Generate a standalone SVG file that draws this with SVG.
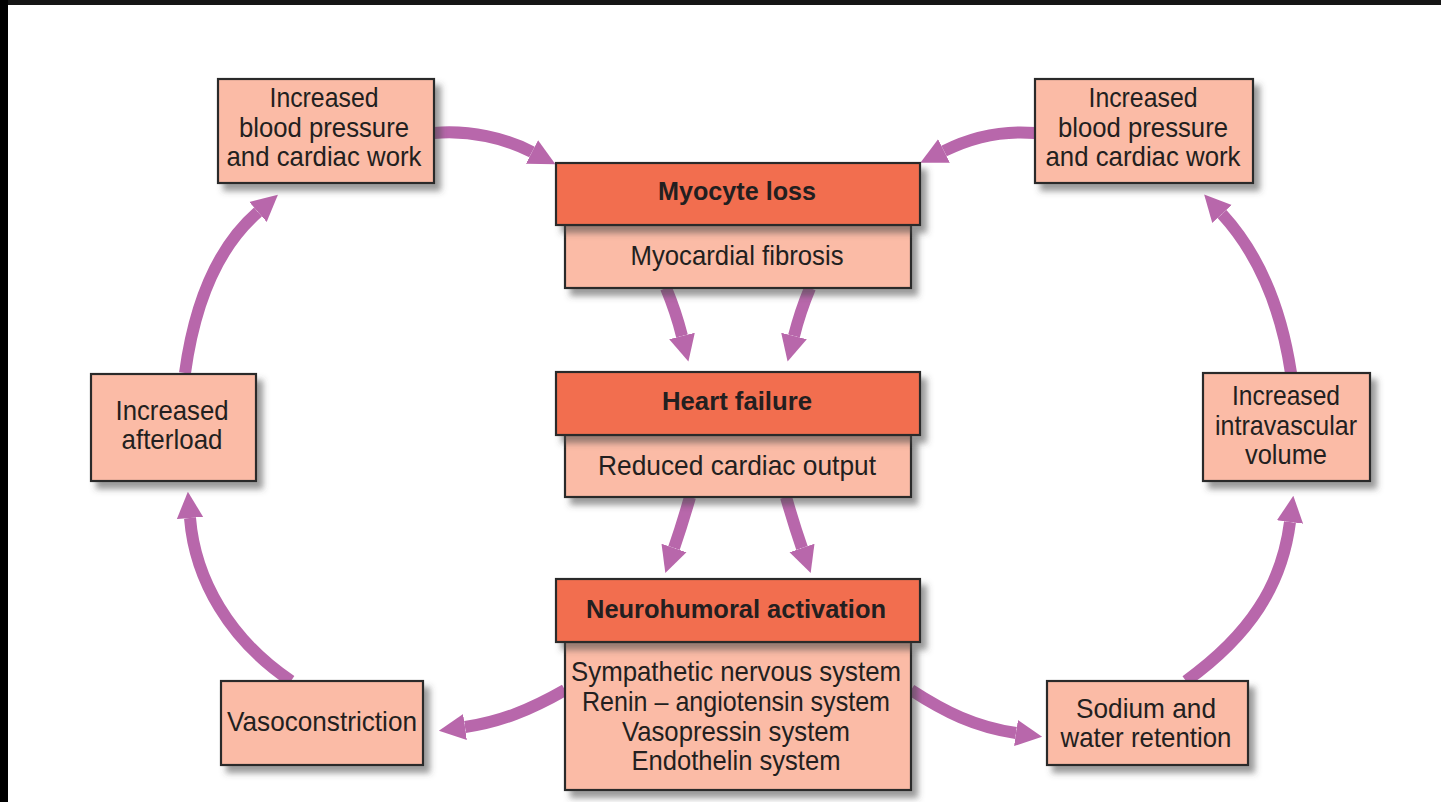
<svg xmlns="http://www.w3.org/2000/svg" width="1441" height="802" viewBox="0 0 1441 802">
<style>
.box{fill:#FBBBA6;stroke:#2a2a2a;stroke-width:2.2}
.hdr{fill:#F26E50;stroke:#2a2a2a;stroke-width:2.2}
.t{font-family:"Liberation Sans",Arial,sans-serif;font-size:28px;fill:#231F20;text-anchor:middle}
.b{font-family:"Liberation Sans",Arial,sans-serif;font-size:26px;font-weight:bold;fill:#231F20;text-anchor:middle}
.arr{fill:none;stroke:#B867AB;stroke-width:12;marker-end:url(#ah)}
</style>
<defs>
<filter id="sh" x="-10%" y="-10%" width="130%" height="140%">
<feDropShadow dx="6" dy="7" stdDeviation="3" flood-color="#4a4a4a" flood-opacity="0.55"/>
</filter>
<marker id="ah" viewBox="0 0 10 10" refX="0" refY="5" markerWidth="2.2" markerHeight="2.6" orient="auto" markerUnits="strokeWidth">
<path d="M0,0 L10,5 L0,10 z" fill="#B867AB"/>
</marker>
</defs>
<rect x="0" y="0" width="1441" height="802" fill="#ffffff"/>
<rect x="0" y="0" width="1441" height="5" fill="#151515"/>
<rect x="0" y="0" width="8" height="802" fill="#000000"/>

<g id="connectors">
<path class="arr" d="M434,133 C470,130 505,138 532,152"/>
<path class="arr" d="M1035,133 C1000,130 970,138 944,151"/>
<path class="arr" d="M185,373 C195,300 220,245 258,212"/>
<path class="arr" d="M291,681 C230,640 195,580 190,518"/>
<path class="arr" d="M1186,681 C1250,635 1282,585 1290,522"/>
<path class="arr" d="M1291,373 C1280,300 1255,250 1222,214"/>
<path class="arr" d="M565,690 C530,710 500,722 465,727"/>
<path class="arr" d="M911,690 C945,712 975,727 1016,733"/>
<path class="arr" d="M666,288 Q676,312 682,336"/>
<path class="arr" d="M810,288 Q800,312 794,336"/>
<path class="arr" d="M690,497 Q682,525 674,548"/>
<path class="arr" d="M786,497 Q794,525 802,548"/>
</g>

<g id="bp-left">
<rect class="box" x="218" y="79" width="216" height="104" filter="url(#sh)"/>
<text class="t" x="324" y="107" textLength="109" lengthAdjust="spacingAndGlyphs">Increased</text>
<text class="t" x="324" y="137" textLength="170" lengthAdjust="spacingAndGlyphs">blood pressure</text>
<text class="t" x="324" y="166" textLength="195" lengthAdjust="spacingAndGlyphs">and cardiac work</text>
</g>

<g id="bp-right">
<rect class="box" x="1035" y="79" width="218" height="104" filter="url(#sh)"/>
<text class="t" x="1143" y="107" textLength="109" lengthAdjust="spacingAndGlyphs">Increased</text>
<text class="t" x="1143" y="137" textLength="170" lengthAdjust="spacingAndGlyphs">blood pressure</text>
<text class="t" x="1143" y="166" textLength="195" lengthAdjust="spacingAndGlyphs">and cardiac work</text>
</g>

<g id="myocyte">
<rect class="box" x="565" y="225" width="346" height="63" filter="url(#sh)"/>
<rect class="hdr" x="556" y="163" width="364" height="62" filter="url(#sh)"/>
<text class="b" x="737" y="200" textLength="158" lengthAdjust="spacingAndGlyphs">Myocyte loss</text>
<text class="t" x="737" y="265" textLength="213" lengthAdjust="spacingAndGlyphs">Myocardial fibrosis</text>
</g>

<g id="heart-failure">
<rect class="box" x="565" y="435" width="346" height="62" filter="url(#sh)"/>
<rect class="hdr" x="556" y="372" width="364" height="63" filter="url(#sh)"/>
<text class="b" x="737" y="410" textLength="150" lengthAdjust="spacingAndGlyphs">Heart failure</text>
<text class="t" x="737" y="475" textLength="278" lengthAdjust="spacingAndGlyphs">Reduced cardiac output</text>
</g>

<g id="neurohumoral">
<rect class="box" x="565" y="642" width="346" height="148" filter="url(#sh)"/>
<rect class="hdr" x="556" y="579" width="364" height="63" filter="url(#sh)"/>
<text class="b" x="736" y="618" textLength="300" lengthAdjust="spacingAndGlyphs">Neurohumoral activation</text>
<text class="t" x="736" y="681" textLength="330" lengthAdjust="spacingAndGlyphs">Sympathetic nervous system</text>
<text class="t" x="736" y="711" textLength="308" lengthAdjust="spacingAndGlyphs">Renin – angiotensin system</text>
<text class="t" x="736" y="741" textLength="228" lengthAdjust="spacingAndGlyphs">Vasopressin system</text>
<text class="t" x="736" y="770" textLength="209" lengthAdjust="spacingAndGlyphs">Endothelin system</text>
</g>

<g id="afterload">
<rect class="box" x="91" y="374" width="165" height="107" filter="url(#sh)"/>
<text class="t" x="172" y="420" textLength="113" lengthAdjust="spacingAndGlyphs">Increased</text>
<text class="t" x="172" y="449" textLength="101" lengthAdjust="spacingAndGlyphs">afterload</text>
</g>

<g id="intravascular">
<rect class="box" x="1203" y="373" width="167" height="108" filter="url(#sh)"/>
<text class="t" x="1286" y="405" textLength="108" lengthAdjust="spacingAndGlyphs">Increased</text>
<text class="t" x="1286" y="435" textLength="142" lengthAdjust="spacingAndGlyphs">intravascular</text>
<text class="t" x="1286" y="464" textLength="82" lengthAdjust="spacingAndGlyphs">volume</text>
</g>

<g id="vasoconstriction">
<rect class="box" x="221" y="681" width="202" height="84" filter="url(#sh)"/>
<text class="t" x="322" y="731" textLength="190" lengthAdjust="spacingAndGlyphs">Vasoconstriction</text>
</g>

<g id="sodium">
<rect class="box" x="1047" y="681" width="201" height="84" filter="url(#sh)"/>
<text class="t" x="1146" y="718" textLength="140" lengthAdjust="spacingAndGlyphs">Sodium and</text>
<text class="t" x="1146" y="747" textLength="171" lengthAdjust="spacingAndGlyphs">water retention</text>
</g>
</svg>
